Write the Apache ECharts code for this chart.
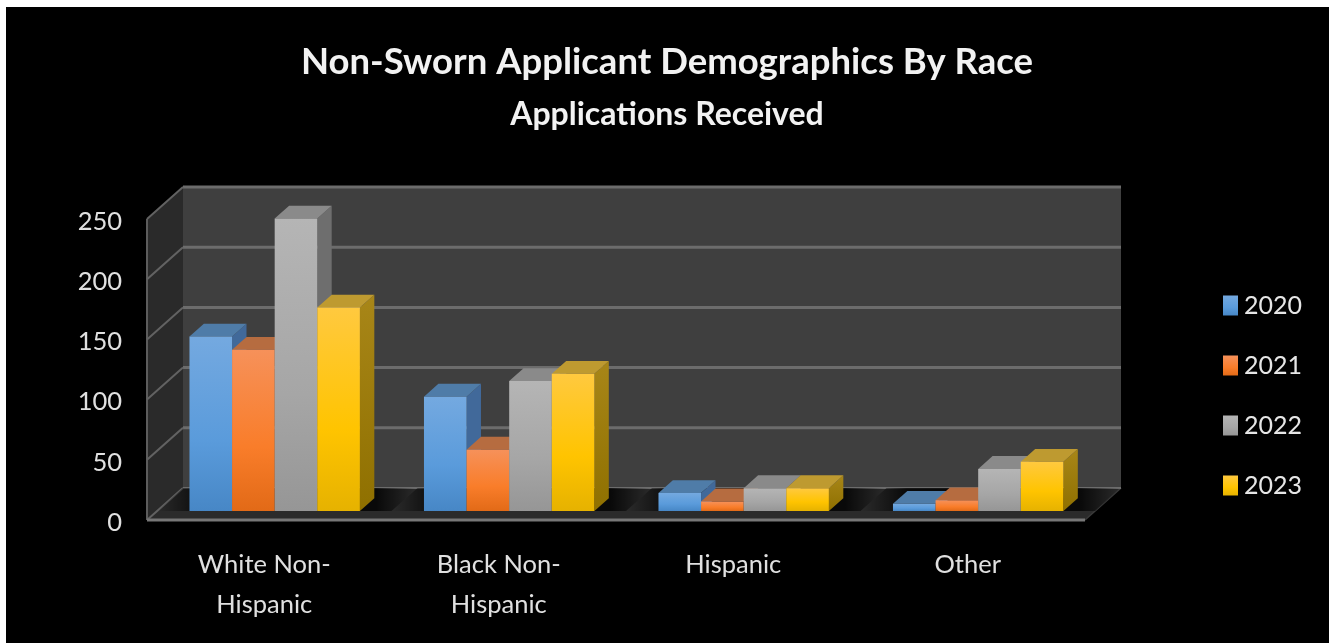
<!DOCTYPE html>
<html>
<head>
<meta charset="utf-8">
<style>html,body{margin:0;padding:0;background:#fff}#chart{width:1329px;height:643px}</style>
<script src="https://cdn.jsdelivr.net/npm/echarts@6/dist/echarts.min.js"></script>
</head>
<body>
<div id="chart"></div>
<script>
const categories = ['White Non-\nHispanic', 'Black Non-\nHispanic', 'Hispanic', 'Other'];
const years = ['2020', '2021', '2022', '2023'];
const values2020 = [145, 95, 15, 6];
const values2021 = [134, 51, 8, 9];
const values2022 = [243, 108, 19, 35];
const values2023 = [169, 114, 19, 41];
const yTicks = [0, 50, 100, 150, 200, 250];

// Oblique projection of the box: full floor depth in pixels, and where the bars stand in it.
const DEPTH_X = 36, DEPTH_Y = -32;
const BAR_PLANE_X = 0.29, BAR_PLANE_Y = 0.28, BAR_DEPTH = 0.4, BAR_SHARE = 0.1817;

const grad = (stops) => ({
  type: 'linear', x: 0, y: 0, x2: 0, y2: 1,
  colorStops: stops.map((c) => ({ offset: c[0], color: c[1] }))
});

const palette = [
  { front: grad([[0, '#74A9E0'], [0.6, '#5A9BDB'], [1, '#4787C6']]), top: '#4F7CA8', side: '#41699A' },
  { front: grad([[0, '#F6915A'], [0.6, '#F97D2A'], [1, '#E26A17']]), top: '#B66C40', side: '#A85C2A' },
  { front: grad([[0, '#B5B5B5'], [0.6, '#A6A6A6'], [1, '#969696']]), top: '#8A8A8A', side: '#6E6E6E' },
  { front: grad([[0, '#FFC93F'], [0.6, '#FFC400'], [1, '#E6B200']]), top: '#BE9A30', side: grad([[0, '#A88618'], [1, '#8F7000']]) }
];

const poly = (points, fill) => ({ type: 'polygon', silent: true, shape: { points }, style: { fill } });
const seg = (a, b, stroke, lineWidth) => ({
  type: 'line', silent: true,
  shape: { x1: a[0], y1: a[1], x2: b[0], y2: b[1] },
  style: { stroke, lineWidth }
});

// Left and right ends of the category band at a given value.
function bandEnds(api, value) {
  const half = api.size([1, 0])[0] / 2;
  const first = api.coord([0, value]);
  const last = api.coord([categories.length - 1, value]);
  return [[first[0] - half, first[1]], [last[0] + half, last[1]]];
}

// Walls and gridlines of the box, one item per value tick.
function renderBox(params, api) {
  const tick = api.value(0);
  const [left, right] = bandEnds(api, tick);
  const back = (p) => [p[0] + DEPTH_X, p[1] + DEPTH_Y];
  const children = [];
  if (params.dataIndex === 0) {
    const [topL, topR] = bandEnds(api, yTicks[yTicks.length - 1]);
    children.push(poly([topL, back(topL), back(left), left], '#2A2A2A'));
    children.push(poly([back(topL), back(topR), back(right), back(left)], '#3F3F3F'));
    children.push(poly([left, back(left), back(right), right], '#2B2B2B'));
    children.push(seg(topL, left, '#5C5C5C', 2));
    children.push(seg(right, back(right), '#3A3A3A', 1.5));
  }
  children.push(seg(back(left), back(right), '#6C6C6C', tick === 0 ? 2 : 3));
  children.push(seg(left, back(left), '#626262', 2));
  if (tick === 0) children.push(seg(left, right, '#777777', 3));
  return { type: 'group', children };
}

// Soft dark pool on the floor around each group of bars.
function renderShade(params, api) {
  const c = api.coord([api.value(0), 0]);
  const half = api.size([1, 0])[0] * 0.5;
  const a = [c[0] - half + DEPTH_X * BAR_PLANE_Y, c[1] + DEPTH_Y * BAR_PLANE_Y];
  const b = [c[0] + half + DEPTH_X * BAR_PLANE_Y, c[1] + DEPTH_Y * BAR_PLANE_Y];
  const fade = {
    type: 'linear', x: 0, y: 0, x2: 1, y2: 0,
    colorStops: [
      { offset: 0, color: 'rgba(0,0,0,0)' },
      { offset: 0.18, color: 'rgba(0,0,0,0.8)' },
      { offset: 0.84, color: 'rgba(0,0,0,0.8)' },
      { offset: 1, color: 'rgba(0,0,0,0)' }
    ]
  };
  const far = 1 - BAR_PLANE_Y;
  return poly([a, [a[0] + DEPTH_X * far, a[1] + DEPTH_Y * far], [b[0] + DEPTH_X * far, b[1] + DEPTH_Y * far], b], fade);
}

// One bar: front face from the value axis, top and side faces pushed back by the bar depth.
function renderBar(seriesIndex) {
  const look = palette[seriesIndex];
  return function (params, api) {
    const top = api.coord([api.value(0), api.value(1)]);
    const base = api.coord([api.value(0), 0]);
    const w = api.size([1, 0])[0] * BAR_SHARE;
    const ox = DEPTH_X * BAR_PLANE_X, oy = DEPTH_Y * BAR_PLANE_Y;
    const x0 = top[0] + ox + (seriesIndex - 2) * w;
    const x1 = x0 + w;
    const yT = top[1] + oy, yB = base[1] + oy;
    const dx = DEPTH_X * BAR_DEPTH, dy = DEPTH_Y * BAR_DEPTH;
    return {
      type: 'group',
      children: [
        poly([[x1, yT], [x1 + dx, yT + dy], [x1 + dx, yB + dy], [x1, yB]], look.side),
        poly([[x0, yT], [x0 + dx, yT + dy], [x1 + dx, yT + dy], [x1, yT]], look.top),
        { type: 'rect', silent: true, shape: { x: x0, y: yT, width: w, height: yB - yT }, style: { fill: look.front } }
      ]
    };
  };
}

const seriesValues = [values2020, values2021, values2022, values2023];

const chart = echarts.init(document.getElementById('chart'), null, { renderer: 'canvas' });
chart.setOption({
  animation: false,
  backgroundColor: '#ffffff',
  graphic: [{
    type: 'rect', z: -10, silent: true,
    shape: { x: 6, y: 7, width: 1323, height: 636 },
    style: { fill: '#000000' }
  }],
  title: {
    text: 'Non-Sworn Applicant Demographics By Race',
    subtext: 'Applications Received',
    left: 662, top: 39, textAlign: 'center', itemGap: 18,
    textStyle: { color: '#F2F2F2', fontFamily: 'Lato', fontWeight: 'bold', fontSize: 36.5 },
    subtextStyle: { color: '#F2F2F2', fontFamily: 'Lato', fontWeight: 'bold', fontSize: 32 }
  },
  legend: {
    data: years, orient: 'vertical', left: 1218, top: 288,
    itemWidth: 15, itemHeight: 20, itemGap: 35, icon: 'rect',
    textStyle: { color: '#E6E6E6', fontFamily: 'Lato', fontSize: 25, padding: [0, 0, 0, 1] }
  },
  grid: { left: 147, top: 219, width: 938, height: 301 },
  xAxis: {
    type: 'category', data: categories,
    axisLine: { show: false }, axisTick: { show: false }, splitLine: { show: false },
    axisLabel: { color: '#E0E0E0', fontFamily: 'Lato', fontSize: 25.5, lineHeight: 40, margin: 25, interval: 0 }
  },
  yAxis: {
    type: 'value', min: 0, max: 250, interval: 50,
    axisLine: { show: false }, axisTick: { show: false }, splitLine: { show: false },
    axisLabel: {
      margin: 25,
      formatter: (v) => '{tick|' + v + '}',
      rich: { tick: { color: '#E0E0E0', fontFamily: 'Lato', fontSize: 25.5, padding: [5, 0, 0, 0] } }
    }
  },
  series: [
    { type: 'custom', name: 'box', z: 1, renderItem: renderBox, data: yTicks.map(t => [t]), encode: { y: 0 }, silent: true },
    { type: 'custom', name: 'shade', z: 1, renderItem: renderShade, data: categories.map((c, i) => [i]), encode: { x: 0 }, silent: true }
  ].concat(years.map((y, i) => ({
    type: 'custom', name: y, z: 2 + i,
    renderItem: renderBar(i),
    itemStyle: { color: palette[i].front },
    encode: { x: 0, y: 1 },
    data: seriesValues[i].map((v, k) => [k, v])
  })))
});
</script>
</body>
</html>
